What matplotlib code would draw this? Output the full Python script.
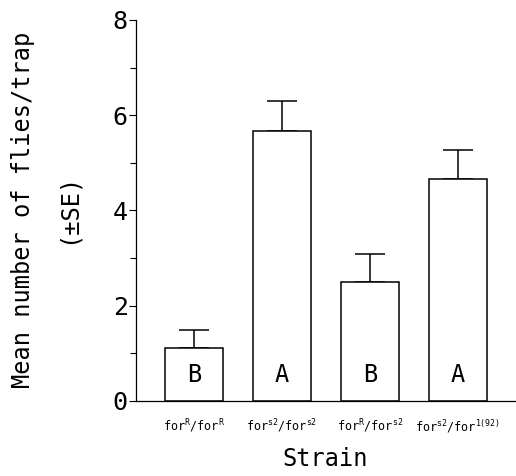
import matplotlib
matplotlib.use('Agg')
import matplotlib.pyplot as plt

# Mean flies per trap by strain, with standard errors
strains = ['for$^{R}$/for$^{R}$', 'for$^{s2}$/for$^{s2}$',
           'for$^{R}$/for$^{s2}$', 'for$^{s2}$/for$^{1(92)}$']
means = [1.12, 5.67, 2.49, 4.66]
se = [0.37, 0.63, 0.60, 0.60]
groups = ['B', 'A', 'B', 'A']

plt.rcParams['font.family'] = 'DejaVu Sans Mono'
plt.rcParams['mathtext.fontset'] = 'custom'
plt.rcParams['mathtext.rm'] = 'DejaVu Sans Mono'
plt.rcParams['mathtext.default'] = 'regular'

fig = plt.figure(figsize=(5.16, 4.76), dpi=100)
ax = fig.add_axes([0.2636, 0.1576, 0.7364, 0.8004])

x = list(range(len(means)))
ax.bar(x, means, width=0.66, color='white', edgecolor='black', linewidth=1.1, zorder=2)
ax.errorbar(x, means, yerr=[[0] * len(se), se], fmt='none', ecolor='black',
            elinewidth=1.1, capsize=11, capthick=1.1, zorder=1)

for xi, g in zip(x, groups):
    ax.text(xi, 0.55, g, ha='center', va='center', fontsize=17)

# y-axis
ax.set_ylim(0, 8)
ax.set_yticks([0, 2, 4, 6, 8])
ax.set_yticks([1, 3, 5, 7], minor=True)
ax.tick_params(axis='y', which='major', length=5, width=0.8, labelsize=18, pad=1)
ax.tick_params(axis='y', which='minor', length=4, width=0.8)

# x-axis
ax.set_xlim(-0.66, 3.66)
ax.set_xticks(x)
ax.set_xticklabels(strains, fontsize=8.5)
ax.tick_params(axis='x', length=0, pad=12)

for side in ['top', 'right']:
    ax.spines[side].set_visible(False)
ax.spines['left'].set_linewidth(0.9)
ax.spines['bottom'].set_linewidth(0.9)

fig.text(0.045, 0.56, 'Mean number of flies/trap', rotation=90,
         ha='center', va='center', fontsize=17)
fig.text(0.132, 0.562, '(±SE)', rotation=90, ha='center', va='center', fontsize=17)
fig.text(0.63, 0.035, 'Strain', ha='center', va='center', fontsize=17)

plt.savefig('out.png', dpi=100)
